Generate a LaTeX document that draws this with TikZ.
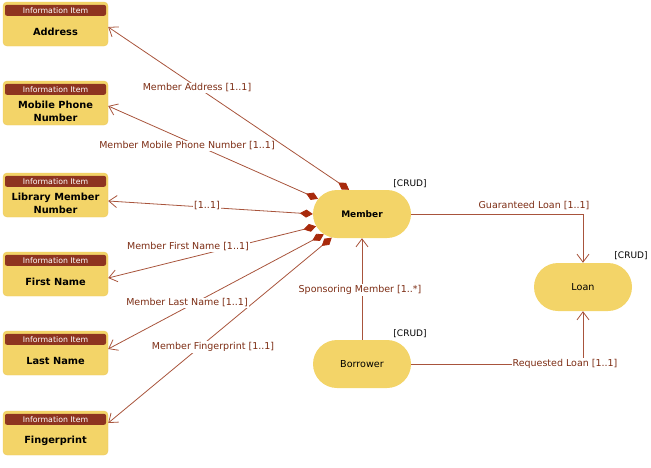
\documentclass[tikz,border=0pt]{standalone}
\usepackage{fontspec}
\setmainfont{DejaVu Sans}
\usetikzlibrary{arrows.meta,shapes.misc}
\definecolor{itemfill}{RGB}{243,212,104}
\definecolor{itemedge}{RGB}{236,201,92}
\definecolor{headfill}{RGB}{142,52,32}
\definecolor{assocline}{RGB}{168,84,60}
\definecolor{assoctext}{RGB}{125,45,20}
\definecolor{aggfill}{RGB}{168,42,12}
\begin{document}
\begin{tikzpicture}[x=1pt,y=-1pt,
	infobox/.style={draw=itemedge,fill=itemfill,rounded corners=4pt,minimum width=105pt,minimum height=44pt,inner sep=0pt},
	infohead/.style={fill=headfill,rounded corners=2pt,minimum width=101pt,minimum height=11pt,inner sep=0pt,text=white,font=\fontsize{7.8}{9}\selectfont},
	infotext/.style={align=center,font=\fontsize{9.8}{13}\selectfont\bfseries},
	entity/.style={rounded rectangle,fill=itemfill,minimum width=98pt,minimum height=48pt,inner sep=0pt,font=\fontsize{9.6}{11}\selectfont},
	crud/.style={font=\fontsize{9}{10}\selectfont,inner sep=0pt},
	assoc/.style={draw=assocline,line width=0.8pt},
	part/.style={assoc,{Diamond[length=13pt,width=8pt,fill=aggfill,color=aggfill]}-{Straight Barb[length=8pt,width=12pt]}},
	link/.style={assoc,-{Straight Barb[length=8pt,width=12pt]}},
	lbl/.style={fill=white,text=assoctext,inner sep=1pt,font=\fontsize{9.5}{11}\selectfont}]
	\useasboundingbox (0,0) rectangle (651,467);
	% information items
	\foreach \n/\y/\txt in {address/24/Address, mobile/103/{Mobile Phone\\Number}, libnum/195/{Library Member\\Number}, firstname/274/{First Name}, lastname/353/{Last Name}, fingerprint/433/Fingerprint}{
		\node[infobox] (\n) at (55.5,\y) {};
		\node[infohead] (\n head) at ([yshift=-8.5pt]\n.north) {Information Item};
		\node[infotext] (\n text) at ([yshift=-8pt]\n.center) {\txt};
	}
	% entities
	\node[entity,font=\fontsize{9}{11}\selectfont\bfseries] (member) at (362,214) {Member};
	\node[entity] (borrower) at (362,364) {Borrower};
	\node[entity] (loan) at (583,287) {Loan};
	\node[crud] (membercrud) at ([shift={(48pt,30pt)}]member.center) {[CRUD]};
	\node[crud] (borrowercrud) at ([shift={(48pt,30pt)}]borrower.center) {[CRUD]};
	\node[crud] (loancrud) at ([shift={(48pt,31pt)}]loan.center) {[CRUD]};
	% member attributes
	\draw[part] (member.118) -- ([yshift=-3pt]address.east);
	\draw[part] (member.161) -- ([yshift=-3pt]mobile.east);
	\draw[part] (member.180) -- ([yshift=-6pt]libnum.east);
	\draw[part] (member.195) -- ([yshift=-4pt]firstname.east);
	\draw[part] (member.208) -- ([yshift=4pt]lastname.east);
	\draw[part] (member.218) -- ([yshift=10pt]fingerprint.east);
	% relations
	\draw[link] (member.east) -| (loan.north);
	\draw[link] (borrower.east) -| (loan.south);
	\draw[link] (borrower.north) -- (member.south);
	% labels
	\node[lbl] (addrlbl) at (197,88) {Member Address [1..1]};
	\node[lbl] (mobilelbl) at (187,146) {Member Mobile Phone Number [1..1]};
	\node[lbl] (libnumlbl) at (207,206) {[1..1]};
	\node[lbl] (firstlbl) at (188,247) {Member First Name [1..1]};
	\node[lbl] (lastlbl) at (187,303) {Member Last Name [1..1]};
	\node[lbl] (fingerlbl) at (213,347) {Member Fingerprint [1..1]};
	\node[lbl] (guarlbl) at (534,206) {Guaranteed Loan [1..1]};
	\node[lbl] (sponslbl) at (360,290) {Sponsoring Member [1..*]};
	\node[lbl] (reqlbl) at (565,364) {Requested Loan [1..1]};
\end{tikzpicture}
\end{document}
